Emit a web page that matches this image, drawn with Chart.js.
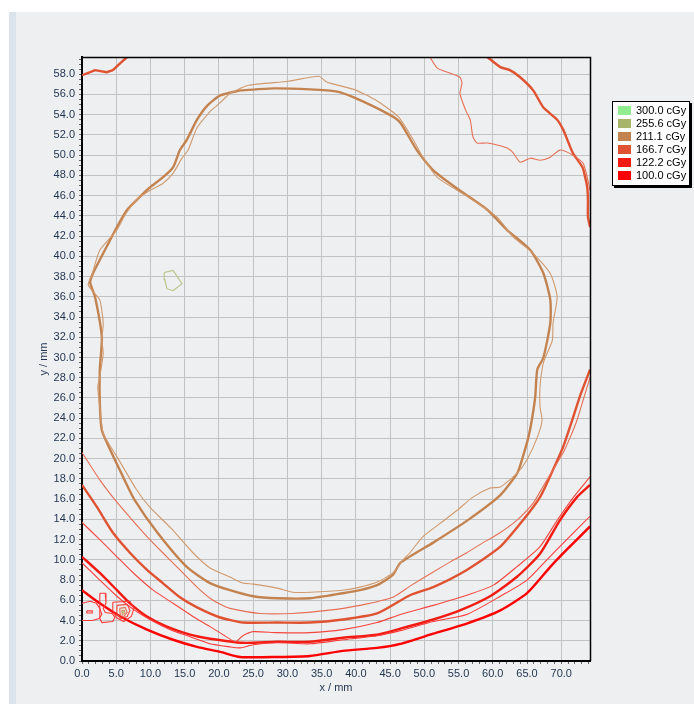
<!DOCTYPE html>
<html>
<head>
<meta charset="utf-8">
<script src="https://cdn.jsdelivr.net/npm/chart.js@4.4.1/dist/chart.umd.min.js"></script>
<style>
  html, body { margin: 0; padding: 0; background: #ffffff; }
  #page { position: relative; width: 694px; height: 704px; overflow: hidden; }
  #bg { position: absolute; left: 16px; top: 12px; right: 0; bottom: 0; background: #eeeff1; }
  #bar { position: absolute; left: 9px; top: 12px; width: 7px; bottom: 0; background: #dbe3ed; }
  #dose-chart { position: absolute; left: 0; top: 0; }
  #legend {
    position: absolute; left: 612px; top: 101px; width: 76px; padding: 2px 0 3px 0;
    background: #ffffff; border: 1px solid #000; box-shadow: 2px 2px 0 #000;
    font: 11px 'Liberation Sans', Arial, sans-serif; color: #000;
  }
  #legend .row { height: 13px; line-height: 13px; display: flex; align-items: center; }
  #legend .sw { width: 13px; height: 9px; margin: 0 5px 0 5px; }
</style>
</head>
<body>
<div id="page">
  <div id="bg"></div>
  <div id="bar"></div>
  <canvas id="dose-chart" width="694" height="704"></canvas>
  <div id="legend"></div>
</div>
<script>
const doseLabels = ['300.0 cGy', '255.6 cGy', '211.1 cGy', '166.7 cGy', '122.2 cGy', '100.0 cGy']
const doseColors = ['#90ee90', '#a7b46c', '#c38350', '#df5232', '#f21b12', '#ff0000']
const doseColorsThin = ['#90ee90', '#b7c285', '#d09a6e', '#e66f54', '#f5473f', '#ff3a3a']

// isodose contours, [x mm, y mm]
const iso211Thick = [[23.1,56.4],[28.1,56.6],[33.3,56.5],[37.1,56.3],[39.7,55.7],[44.9,54.0],[46.5,53.2],[48.9,50.5],[51.3,48.5],[55.2,46.5],[59.2,44.6],[62.1,42.6],[65.5,40.6],[67.4,38.3],[68.4,35.7],[68.4,33.4],[67.4,30.0],[66.5,28.8],[66.2,26.1],[65.7,23.8],[65.2,22.1],[64.4,20.2],[63.6,18.6],[61.1,16.4],[56.3,13.9],[51.3,11.7],[46.5,9.7],[45.4,8.5],[43.1,7.5],[40.6,7.0],[38.1,6.7],[33.3,6.2],[28.5,6.2],[25.0,6.4],[21.6,7.0],[18.7,7.7],[15.3,9.3],[11.0,12.7],[7.7,15.9],[6.0,18.2],[4.1,20.9],[2.9,22.8],[2.6,25.5],[2.6,28.8],[2.9,32.0],[1.9,36.0],[1.2,37.4],[1.6,38.3],[4.1,41.6],[5.1,42.9],[6.6,44.6],[8.5,45.9],[9.9,46.8],[11.8,47.8],[13.3,48.8],[14.3,50.5],[15.3,51.5],[16.8,53.5],[18.3,54.9],[20.2,55.9]]
const iso211Thin = [[21.6,56.1],[24.3,56.9],[30.1,57.3],[34.6,57.8],[35.8,57.2],[39.7,56.5],[43.0,55.4],[46.2,53.8],[48.4,51.5],[49.8,49.8],[51.9,47.8],[56.3,45.9],[60.6,43.9],[63.0,41.9],[65.9,40.3],[68.4,38.3],[69.4,36.0],[68.8,33.4],[68.7,31.7],[67.4,29.5],[66.9,27.1],[66.9,25.1],[67.2,23.8],[66.5,22.1],[65.0,19.9],[63.6,18.6],[61.1,17.2],[59.6,17.1],[57.1,16.2],[54.8,14.9],[52.3,13.6],[49.8,12.3],[47.9,10.7],[46.9,10.0],[45.4,8.7],[43.1,7.8],[40.6,7.3],[38.1,7.0],[33.3,6.8],[30.8,6.8],[28.5,7.2],[25.0,7.6],[23.5,7.7],[21.6,8.3],[18.7,9.2],[16.2,10.7],[12.9,13.2],[9.9,15.2],[8.0,16.9],[5.1,20.2],[3.1,22.5],[2.6,25.1],[2.3,27.1],[2.6,28.1],[3.1,30.4],[2.9,31.7],[3.1,33.4],[2.6,35.7],[1.6,36.5],[0.9,37.2],[1.5,38.3],[2.6,40.6],[5.1,42.6],[6.3,44.1],[8.0,45.6],[9.9,46.5],[11.8,47.2],[13.3,48.2],[14.6,49.7],[15.5,50.5],[16.8,52.7],[18.7,54.3],[19.7,54.9]]
const iso255Spot = [[12.0,38.4],[13.3,38.6],[14.6,37.3],[13.3,36.6],[12.4,36.8],[12.1,37.7]]

const iso167TopLeft = [[0,57.9],[1.2,58.2],[1.9,58.4],[3.6,58.2],[4.5,58.4],[5.6,59.1],[6.6,59.7]]
const iso167TopRight = [[59.2,59.7],[61.1,58.7],[62.5,58.4],[64.0,57.7],[65.9,56.4],[67.4,54.7],[69.4,53.5],[70.3,52.5],[70.9,51.5],[71.7,50.2],[73.1,48.8],[73.5,47.8],[73.8,46.8],[73.9,45.6],[73.9,43.9],[74.2,42.9]]
const iso167TopRightThin = [[50.8,59.7],[51.9,58.6],[53.8,58.1],[55.2,57.7],[55.5,57.1],[55.2,56.1],[56.0,54.5],[56.7,53.5],[57.1,51.8],[57.7,51.2],[59.2,51.2],[62.1,50.7],[63.0,50.2],[64.0,49.3],[65.5,49.7],[66.9,49.5],[68.4,49.8],[69.8,50.5],[71.7,50.0],[73.2,49.2],[73.9,47.5],[74.2,46.5]]
const iso167Low = [[0,17.4],[2.2,15.2],[4.5,12.7],[7.0,10.7],[9.5,9.0],[11.8,7.7],[14.3,6.3],[16.8,5.3],[20.2,4.3],[23.5,3.8],[28.5,3.8],[33.3,3.8],[38.1,4.1],[43.1,4.7],[47.9,6.5],[51.3,7.3],[56.2,9.0],[61.1,11.3],[64.4,13.9],[66.9,16.2],[68.8,18.9],[70.3,21.2],[71.6,23.8],[72.8,26.3],[74.2,28.8]]
const iso167LowThin = [[0,20.6],[2.6,17.9],[4.5,16.2],[7.0,14.2],[9.5,12.3],[11.8,10.7],[14.3,9.0],[16.8,7.3],[18.7,6.2],[20.2,5.6],[21.6,5.2],[26.0,4.7],[30.8,4.7],[35.8,5.0],[40.6,5.5],[45.4,6.3],[47.9,7.4],[51.3,8.8],[53.8,9.8],[56.2,10.7],[58.6,11.7],[61.1,12.7],[63.5,13.9],[65.9,15.6],[67.3,17.2],[68.8,18.9],[70.3,20.6],[71.3,22.1],[72.3,23.8],[73.2,25.8],[74.2,28.0]]
const iso122Low = [[0,10.3],[2.6,8.7],[5.1,7.0],[7.0,5.7],[9.5,4.4],[12.4,3.4],[15.8,2.6],[18.7,2.2],[23.5,1.8],[28.5,1.9],[33.3,1.9],[38.1,2.3],[43.1,2.6],[46.5,3.2],[51.3,4.1],[55.2,5.0],[59.6,6.4],[63.5,8.3],[66.9,10.6],[69.8,13.9],[72.3,16.2],[74.2,17.4]]
const iso122LowThin = [[0,13.7],[2.6,12.0],[5.1,10.3],[7.5,8.7],[10.4,7.0],[13.3,5.7],[16.2,4.4],[18.7,3.4],[20.6,2.6],[22.4,1.9],[23.5,2.5],[25.0,2.9],[28.5,2.8],[33.3,2.8],[38.1,3.1],[43.1,3.8],[46.5,4.6],[51.3,5.5],[56.2,6.5],[60.1,7.5],[63.5,9.3],[66.9,11.3],[69.4,13.9],[71.8,16.2],[74.2,18.2]]
const iso100Low = [[0,7.0],[2.6,5.7],[5.6,4.4],[9.5,3.1],[13.3,2.1],[16.8,1.4],[20.2,0.9],[23.1,0.4],[28.5,0.4],[33.3,0.5],[38.1,1.0],[43.1,1.3],[46.5,1.7],[51.3,2.7],[56.2,3.7],[61.1,5.0],[65.0,6.7],[68.4,9.3],[70.8,11.0],[74.2,13.3]]
const iso100LowThin = [[0,9.7],[2.6,8.0],[5.1,6.4],[7.5,5.1],[9.9,4.1],[12.9,3.1],[15.8,2.4],[18.7,1.7],[21.6,1.4],[23.1,1.3],[25.0,1.6],[28.5,1.8],[33.3,1.7],[38.1,2.1],[43.1,2.5],[46.5,3.0],[51.3,3.9],[56.2,4.6],[61.1,6.4],[65.0,8.0],[67.9,10.0],[70.8,12.0],[74.2,14.3]]

// small hot spot near the left edge
const spotEdge = [[0,5.7],[1.2,5.9],[2.1,5.7],[2.6,5.2],[2.9,4.6],[2.5,4.2],[1.5,4.0],[0,4.0]]
const spotEdgeCore = [[0.7,4.95],[1.5,4.95],[1.5,4.75],[0.7,4.75]]
const spotFinger = [[2.6,6.7],[3.4,6.7],[3.5,5.7],[3.1,5.2],[3.4,4.8],[4.4,4.7],[4.8,4.3],[4.5,3.9],[2.9,3.8],[2.6,4.2]]
const spot100 = [[4.5,5.8],[7.0,5.9],[7.6,5.2],[7.2,4.4],[6.1,3.9],[5.0,4.3],[4.5,5.0]]
const spot122 = [[5.1,5.5],[6.6,5.6],[7.0,5.0],[6.6,4.4],[5.7,4.2],[5.1,4.6]]
const spot167 = [[5.5,5.2],[6.3,5.3],[6.6,4.8],[6.1,4.4],[5.6,4.5]]
const spot211 = [[5.8,5.0],[6.2,5.0],[6.3,4.7],[5.9,4.6]]
const spot255 = [[5.9,4.9],[6.1,4.9],[6.1,4.75],[5.95,4.75]]

function contour(points, level, thick, closed) {
  return {
    data: closed ? points.concat([points[0]]) : points,
    borderColor: thick ? doseColors[level] : doseColorsThin[level],
    borderWidth: thick ? 2.4 : 1.1,
    showLine: true,
    pointRadius: 0,
    tension: points.length > 10 ? 0.2 : 0,
    fill: false
  }
}

const datasets = [
  contour(spotEdge, 5, false, false),
  contour(spotEdgeCore, 5, false, true),
  contour(spotFinger, 5, false, true),
  contour(spot100, 5, false, true),
  contour(spot122, 4, false, true),
  contour(spot167, 3, false, true),
  contour(spot211, 2, false, true),
  contour(spot255, 1, false, true),
  contour(iso100LowThin, 5, false, false),
  contour(iso100Low, 5, true, false),
  contour(iso122LowThin, 4, false, false),
  contour(iso122Low, 4, true, false),
  contour(iso167LowThin, 3, false, false),
  contour(iso167Low, 3, true, false),
  contour(iso167TopRightThin, 3, false, false),
  contour(iso167TopRight, 3, true, false),
  contour(iso167TopLeft, 3, true, false),
  contour(iso211Thin, 2, false, true),
  contour(iso211Thick, 2, true, true),
  contour(iso255Spot, 1, false, true)
]

const tickFont = { family: "'Liberation Sans', Arial, sans-serif", size: 11 }
const tickColor = '#1f3350'
const gridColor = '#c2c2c2'

const frame = {
  id: 'frame',
  afterDraw(chart) {
    const { ctx, chartArea: a } = chart
    ctx.save()
    ctx.strokeStyle = '#000'
    ctx.lineWidth = 1.5
    ctx.beginPath()
    ctx.moveTo(a.left, a.top + 0.5)
    ctx.lineTo(a.right + 0.5, a.top + 0.5)
    ctx.lineTo(a.right + 0.5, a.bottom)
    ctx.stroke()
    ctx.restore()
  }
}

new Chart(document.getElementById('dose-chart'), {
  type: 'scatter',
  data: { datasets },
  options: {
    responsive: false,
    animation: false,
    layout: { padding: { left: 37, top: 57, right: 104, bottom: 0 } },
    plugins: { legend: { display: false }, tooltip: { enabled: false } },
    scales: {
      x: {
        type: 'linear', min: 0, max: 74.2,
        afterFit: (s) => { s.height = 43 },
        ticks: {
          stepSize: 1, autoSkip: false, maxRotation: 0, includeBounds: false,
          padding: 3, color: tickColor, font: tickFont,
          callback: (v) => (Math.abs(v % 5) < 1e-6 ? v.toFixed(1) : '')
        },
        grid: {
          color: (c) => (c.tick && Math.abs(c.tick.value % 5) < 1e-6 ? gridColor : 'rgba(0,0,0,0)'),
          borderDash: [1, 2], tickLength: 3, tickColor: '#666', tickBorderDash: []
        },
        border: { color: '#000', width: 2 },
        title: { display: true, text: 'x / mm', color: tickColor, font: tickFont, padding: { top: 0, bottom: 9 } }
      },
      y: {
        type: 'linear', min: 0, max: 59.7,
        afterFit: (s) => { s.width = 45 },
        ticks: {
          stepSize: 0.5, autoSkip: false, includeBounds: false,
          padding: 4, color: tickColor, font: tickFont,
          callback: (v) => (Math.abs(v / 2 - Math.round(v / 2)) < 1e-6 ? v.toFixed(1) : '')
        },
        grid: {
          color: (c) => (c.tick && Math.abs(c.tick.value / 2 - Math.round(c.tick.value / 2)) < 1e-6 ? gridColor : 'rgba(0,0,0,0)'),
          borderDash: [1, 1], tickLength: 3, tickColor: '#666', tickBorderDash: []
        },
        border: { color: '#000', width: 2 },
        title: { display: true, text: 'y / mm', color: tickColor, font: tickFont, padding: { top: 0, bottom: 0 } }
      }
    }
  },
  plugins: [frame]
})

const legendBox = document.getElementById('legend')
doseLabels.forEach((label, i) => {
  const row = document.createElement('div')
  row.className = 'row'
  row.innerHTML = `<span class="sw" style="background:${doseColors[i]}"></span><span>${label}</span>`
  legendBox.appendChild(row)
})
</script>
</body>
</html>
